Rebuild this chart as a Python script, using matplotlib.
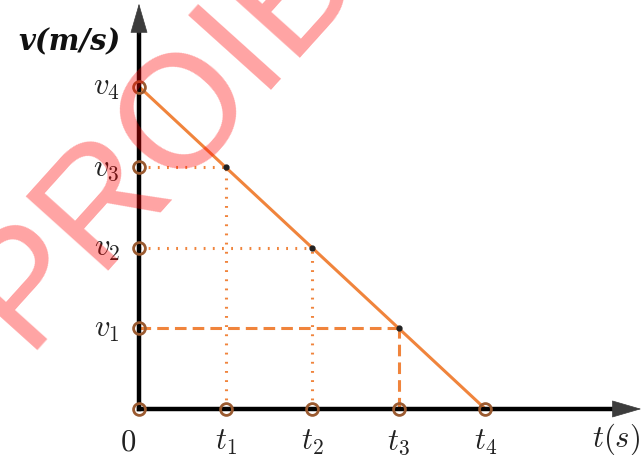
import matplotlib
matplotlib.use("Agg")
import matplotlib.pyplot as plt

plt.rcParams['mathtext.fontset'] = 'cm'

# data
t_ticks = [1, 2, 3, 4]
v_ticks = [1, 2, 3, 4]
t_labels = [r'$t_1$', r'$t_2$', r'$t_3$', r'$t_4$']
v_labels = [r'$v_1$', r'$v_2$', r'$v_3$', r'$v_4$']
line_t = [0, 4]
line_v = [4, 0]
pts_t = [1, 2, 3]
pts_v = [3, 2, 1]
guide_styles = ['dotted', 'dotted', 'dashed']

ORANGE = '#f0843c'
MARK = '#9a5a30'

fig = plt.figure(figsize=(6.41, 4.56), dpi=100)
ax = fig.add_axes([0, 0, 1, 1])
ax.set_xlim(-1.605, 5.797)
ax.set_ylim(-0.571, 5.087)
ax.axis('off')

# guides
for tt, vv, st in zip(pts_t, pts_v, guide_styles):
    if st == 'dotted':
        ls = (0, (0.6, 2.4))
    else:
        ls = (0, (3.8, 2.0))
    ax.plot([0, tt], [vv, vv], color=ORANGE, lw=2.2, ls=ls, zorder=2)
    ax.plot([tt, tt], [0, vv], color=ORANGE, lw=2.2, ls=ls, zorder=2)

# main line
ax.plot(line_t, line_v, color=ORANGE, lw=2.2, zorder=3, solid_capstyle='butt')

# axes
ax.plot([0, 5.6], [0, 0], color='black', lw=3.2, zorder=4, solid_capstyle='projecting')
ax.plot([0, 0], [0, 4.7], color='black', lw=3.2, zorder=4, solid_capstyle='projecting')
ax.annotate('', xy=(5.80, 0), xytext=(5.5, 0),
            arrowprops=dict(arrowstyle='-|>,head_length=1.1,head_width=0.32', color='#3c3c3c', lw=0.5,
                            mutation_scale=18, shrinkA=0, shrinkB=0), zorder=5)
ax.annotate('', xy=(0, 5.03), xytext=(0, 4.65),
            arrowprops=dict(arrowstyle='-|>,head_length=1.1,head_width=0.32', color='#3c3c3c', lw=0.5,
                            mutation_scale=18, shrinkA=0, shrinkB=0), zorder=5)

# markers on axes
ax.plot([0] + t_ticks, [0] * 5, ls='none', marker='o', ms=8.5, mfc='none', mec=MARK, mew=2, zorder=6)
ax.plot([0] * 4, v_ticks, ls='none', marker='o', ms=8.5, mfc='none', mec=MARK, mew=2, zorder=6)
ax.plot(pts_t, pts_v, ls='none', marker='o', ms=3.5, color='#222222', zorder=7)

# labels
for tt, lab in zip(t_ticks, t_labels):
    ax.text(tt, -0.22, lab, ha='center', va='top', fontsize=22, color='#222222')
for vv, lab in zip(v_ticks, v_labels):
    ax.text(-0.22, vv, lab, ha='right', va='center', fontsize=22, color='#222222')
ax.text(-0.13, -0.22, r'$0$', ha='center', va='top', fontsize=22, color='#222222')
ax.text(5.79, -0.14, r'$t(s)$', ha='right', va='top', fontsize=22, color='#222222')
fig.text(70 / 641, 1 - 42 / 456, 'v(m/s)', ha='center', va='center', fontsize=21,
         family='DejaVu Serif', style='italic', weight='bold', color='#111111')

# watermark
fig.text(24 / 641, 1 - 350 / 456, 'PROIB', rotation=48, rotation_mode='anchor',
         ha='left', va='baseline', fontsize=116, family='Liberation Sans',
         color='red', alpha=0.36, zorder=10)

fig.savefig('out.png', dpi=100)
